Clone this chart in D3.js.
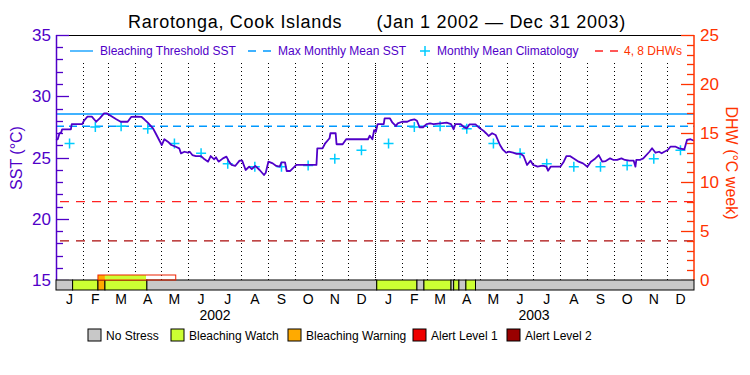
<!DOCTYPE html>
<html>
<head>
<meta charset="utf-8">
<script src="https://cdn.jsdelivr.net/npm/d3@7"></script>
<style>
  body { margin: 0; background: #fff; }
  svg { display: block; font-family: "Liberation Sans", Arial, sans-serif; }
</style>
</head>
<body>
<svg id="chart" width="750" height="375"></svg>
<script>
// month letters + years on the time axis
var monthLetters = ["J","F","M","A","M","J","J","A","S","O","N","D"];
var years = [2002, 2003];

// monthly mean climatology (deg C), Jan..Dec
var climValues = [26.15, 27.5, 27.55, 27.35, 26.15, 25.35, 24.5, 24.25, 24.25, 24.35, 24.9, 25.6];
var bleachingThreshold = 28.55;
var maxMonthlyMean = 27.55;
var dhwLevels = [4, 8];

// SST, days since Jan 1 2002
var sstDays = [0,2,4,6,7,17,18,30,32,36,41,46,50,55,58,63,69,74,82,86,92,98,101,105,111,114,118,121,124,128,
  132,137,141,143,147,151,153,156,160,166,170,174,177,181,183,186,191,195,198,201,205,210,213,217,221,224,228,
  233,238,240,243,248,252,256,258,262,264,268,273,275,298,299,305,308,313,314,320,321,328,332,357,359,362,364,
  366,368,375,376,382,385,389,391,396,402,406,410,413,416,420,424,428,432,440,447,452,455,457,463,467,470,473,
  480,485,489,492,495,499,503,508,511,515,518,523,527,532,535,539,543,546,549,551,555,558,561,563,566,577,581,
  584,588,592,598,603,608,612,616,621,625,629,634,638,642,647,651,656,661,663,664,668,672,679,682,686,690,693,
  696,700,703,709,713,719,722,726,730];
var sstValues = [26.43,26.49,26.98,27.06,27.3,27.3,27.73,27.73,28.0,28.33,28.33,27.92,28.2,28.6,28.6,28.39,28.12,
  27.92,27.92,28.31,28.33,28.31,28.12,27.84,27.38,26.98,26.43,26.02,26.49,26.29,26.02,25.88,25.75,25.34,25.47,
  25.39,25.47,25.2,25.12,25.12,24.85,24.66,25.12,24.85,25.02,24.66,24.93,25.07,24.66,24.39,24.31,24.74,24.74,
  23.98,24.25,24.06,24.31,23.98,23.57,23.76,24.66,24.52,24.31,24.25,24.61,24.61,23.9,23.9,24.25,24.39,24.39,
  25.75,25.75,26.16,26.57,26.98,26.98,26.08,26.08,26.49,26.49,26.78,26.49,27.24,27.1,27.73,27.73,28.2,28.2,
  27.84,27.57,27.79,27.92,27.92,28.06,28.12,28.0,27.47,27.47,27.73,27.79,27.73,27.79,27.84,27.73,27.3,27.73,
  27.73,27.47,27.38,27.7,27.7,27.38,27.19,26.98,26.76,26.98,26.84,26.02,25.67,25.39,25.47,25.39,25.29,25.29,
  25.12,24.39,24.74,24.39,24.31,24.25,24.31,24.31,24.25,23.92,24.25,24.25,24.66,25.12,25.12,24.93,24.66,24.52,
  24.25,24.66,24.85,25.2,24.66,24.71,24.93,24.8,24.8,24.93,24.8,24.74,24.74,24.25,24.8,24.8,24.93,25.47,25.75,
  25.39,25.47,25.34,25.47,25.61,25.88,25.88,25.75,25.67,26.43,26.49,26.37];

// bleaching stress level bar (0 no stress, 1 watch, 2 warning, 3 alert 1, 4 alert 2)
var stressStart = ["2002-01-01","2002-01-20","2002-02-18","2002-02-26","2002-04-15","2003-01-03","2003-02-18",
  "2003-02-26","2003-03-29","2003-04-01","2003-04-07","2003-04-15","2003-04-26"];
var stressLevel = [0,1,2,1,0,1,0,1,0,1,0,1,0];
var outlookStart = ["2002-02-18","2002-02-26","2002-04-14"];
var outlookEnd = ["2002-02-26","2002-04-14","2002-05-18"];
var outlookLevel = [2,1,-1];

var stressNames = ["No Stress","Bleaching Watch","Bleaching Warning","Alert Level 1","Alert Level 2"];
var stressColors = ["#c8c8c8","#ccff33","#ffaa00","#ee0000","#990000"];

var purple = "#5000c8", dhwRed = "#ff3300";
var parseDate = d3.timeParse("%Y-%m-%d");
var t0 = parseDate("2002-01-01"), t1 = parseDate("2004-01-01");

var svg = d3.select("#chart");
var pLeft = 56, pRight = 694, pTop = 35, pBottom = 280;

var x = d3.scaleTime().domain([t0, t1]).range([pLeft, pRight]);
var y = d3.scaleLinear().domain([15, 35]).range([pBottom, pTop]);
var y2 = d3.scaleLinear().domain([0, 25]).range([pBottom, pTop]);

// title
svg.append("text")
  .attr("x", 377).attr("y", 28)
  .attr("text-anchor", "middle")
  .style("font-size", "18px")
  .style("letter-spacing", "0.7px")
  .style("white-space", "pre")
  .text("Rarotonga, Cook Islands      (Jan 1 2002 \u2014 Dec 31 2003)");

// month dotted lines
var monthStarts = d3.timeMonth.range(d3.timeMonth.offset(t0, 1), t1);
svg.append("g").selectAll("line")
  .data(monthStarts)
  .join("line")
    .attr("x1", d => Math.round(x(d)) + 0.5)
    .attr("x2", d => Math.round(x(d)) + 0.5)
    .attr("y1", 63).attr("y2", pBottom)
    .attr("stroke", "#000")
    .attr("stroke-dasharray", d => d.getMonth() === 0 ? "1,1" : "1,3");

// reference lines
svg.append("line")
  .attr("x1", pLeft).attr("x2", pRight)
  .attr("y1", y(bleachingThreshold)).attr("y2", y(bleachingThreshold))
  .attr("stroke", "#0099ff").attr("stroke-width", 1.5);
svg.append("line")
  .attr("x1", pLeft).attr("x2", pRight)
  .attr("y1", y(maxMonthlyMean)).attr("y2", y(maxMonthlyMean))
  .attr("stroke", "#0099ff").attr("stroke-width", 1.5)
  .attr("stroke-dasharray", "8,5");
svg.append("g").selectAll("line")
  .data(dhwLevels)
  .join("line")
    .attr("x1", pLeft + 4).attr("x2", pRight)
    .attr("y1", d => y2(d)).attr("y2", d => y2(d))
    .attr("stroke", (d, i) => i === 0 ? "#aa0a0a" : "#ff2222")
    .attr("stroke-width", 1.2)
    .attr("stroke-dasharray", "9,7");

// climatology crosses, same for both years
var climPoints = [];
years.forEach(function(yr) {
  climValues.forEach(function(v, m) {
    var a = new Date(yr, m, 1), b = new Date(yr, m + 1, 1);
    climPoints.push({ date: new Date((a.getTime() + b.getTime()) / 2), value: v });
  });
});
svg.append("g").selectAll("path")
  .data(climPoints)
  .join("path")
    .attr("d", d => {
      var cx = x(d.date), cy = y(d.value);
      return "M" + (cx - 5) + "," + cy + "H" + (cx + 5) + "M" + cx + "," + (cy - 5) + "V" + (cy + 5);
    })
    .attr("stroke", "#00ccff")
    .attr("stroke-width", 1.5);

// SST line
var sstData = sstDays.map((d, i) => ({ date: d3.timeDay.offset(t0, d), value: sstValues[i] }));
var line = d3.line()
  .x(d => x(d.date))
  .y(d => y(d.value));
svg.append("path")
  .attr("fill", "none")
  .attr("stroke", purple)
  .attr("stroke-width", 1.8)
  .attr("stroke-linejoin", "round")
  .attr("d", line(sstData));

// top border
svg.append("line")
  .attr("x1", pLeft).attr("x2", pRight)
  .attr("y1", pTop + 0.5).attr("y2", pTop + 0.5)
  .attr("stroke", "#000");

// left axis
var leftAxis = svg.append("g");
leftAxis.append("line")
  .attr("x1", pLeft + 0.5).attr("x2", pLeft + 0.5)
  .attr("y1", pTop).attr("y2", pBottom)
  .attr("stroke", purple).attr("stroke-width", 1.5);
leftAxis.selectAll(".tick")
  .data(d3.range(15, 36))
  .join("line")
    .attr("x1", pLeft).attr("x2", d => pLeft + (d % 5 === 0 ? 13 : 7))
    .attr("y1", d => Math.round(y(d)) + 0.5).attr("y2", d => Math.round(y(d)) + 0.5)
    .attr("stroke", purple).attr("stroke-width", 1.3);
leftAxis.selectAll("text")
  .data(d3.range(15, 36, 5))
  .join("text")
    .attr("x", pLeft - 5).attr("y", d => y(d) + 6)
    .attr("text-anchor", "end")
    .attr("fill", purple)
    .style("font-size", "17px")
    .text(d => d);
svg.append("text")
  .attr("transform", "translate(22,158) rotate(-90)")
  .attr("text-anchor", "middle")
  .attr("fill", purple)
  .style("font-size", "16px")
  .text("SST (\u00B0C)");

// right axis
var rightAxis = svg.append("g");
rightAxis.append("line")
  .attr("x1", pRight).attr("x2", pRight)
  .attr("y1", pTop).attr("y2", pBottom)
  .attr("stroke", dhwRed).attr("stroke-width", 1.5);
rightAxis.selectAll(".tick")
  .data(d3.range(0, 26))
  .join("line")
    .attr("x1", pRight).attr("x2", d => pRight - (d % 5 === 0 ? 13 : 7))
    .attr("y1", d => Math.round(y2(d)) + 0.5).attr("y2", d => Math.round(y2(d)) + 0.5)
    .attr("stroke", dhwRed).attr("stroke-width", 1.3);
rightAxis.selectAll("text")
  .data(d3.range(0, 26, 5))
  .join("text")
    .attr("x", pRight + 6).attr("y", d => y2(d) + 6)
    .attr("fill", dhwRed)
    .style("font-size", "17px")
    .text(d => d);
svg.append("text")
  .attr("transform", "translate(726,163) rotate(90)")
  .attr("text-anchor", "middle")
  .attr("fill", dhwRed)
  .style("font-size", "16px")
  .text("DHW (\u00B0C week)");

// stress bar
var stressSegs = stressStart.map((s, i) => ({
  start: parseDate(s),
  end: i + 1 < stressStart.length ? parseDate(stressStart[i + 1]) : t1,
  level: stressLevel[i]
}));
svg.append("g").selectAll("rect")
  .data(stressSegs)
  .join("rect")
    .attr("x", d => x(d.start))
    .attr("width", d => x(d.end) - x(d.start))
    .attr("y", pBottom).attr("height", 10)
    .attr("fill", d => stressColors[d.level])
    .attr("stroke", "#000");

var outlookSegs = outlookStart.map((s, i) => ({ start: parseDate(s), end: parseDate(outlookEnd[i]), level: outlookLevel[i] }));
svg.append("g").selectAll("rect")
  .data(outlookSegs.filter(d => d.level >= 0))
  .join("rect")
    .attr("x", d => x(d.start))
    .attr("width", d => x(d.end) - x(d.start))
    .attr("y", pBottom - 5).attr("height", 5)
    .attr("fill", d => stressColors[d.level]);
svg.append("rect")
  .attr("x", x(outlookSegs[0].start))
  .attr("width", x(outlookSegs[outlookSegs.length - 1].end) - x(outlookSegs[0].start))
  .attr("y", pBottom - 5).attr("height", 5)
  .attr("fill", "none")
  .attr("stroke", "#ee2200");

// month + year labels
var monthMids = d3.timeMonth.range(t0, t1).map(d => new Date((d.getTime() + d3.timeMonth.offset(d, 1).getTime()) / 2));
svg.append("g").selectAll("text")
  .data(monthMids)
  .join("text")
    .attr("x", d => x(d)).attr("y", 304)
    .attr("text-anchor", "middle")
    .style("font-size", "14px")
    .text(d => monthLetters[d.getMonth()]);
svg.append("g").selectAll("text")
  .data(years)
  .join("text")
    .attr("x", d => x(new Date(d, 6, 2))).attr("y", 320)
    .attr("text-anchor", "middle")
    .style("font-size", "14px")
    .text(d => d);

// top legend
var lg = svg.append("g").style("font-size", "12px");
lg.append("line").attr("x1", 70).attr("x2", 93).attr("y1", 51).attr("y2", 51)
  .attr("stroke", "#0099ff").attr("stroke-width", 1.3);
lg.append("text").attr("x", 100).attr("y", 55).attr("fill", purple).text("Bleaching Threshold SST");
lg.append("line").attr("x1", 248).attr("x2", 271).attr("y1", 51).attr("y2", 51)
  .attr("stroke", "#0099ff").attr("stroke-width", 1.3).attr("stroke-dasharray", "8,7");
lg.append("text").attr("x", 278).attr("y", 55).attr("fill", purple).text("Max Monthly Mean SST");
lg.append("path").attr("d", "M420,51H430M425,46V56").attr("stroke", "#00ccff").attr("stroke-width", 1.5);
lg.append("text").attr("x", 437).attr("y", 55).attr("fill", purple).text("Monthly Mean Climatology");
lg.append("line").attr("x1", 595).attr("x2", 618).attr("y1", 51).attr("y2", 51)
  .attr("stroke", "#ff2222").attr("stroke-width", 1.3).attr("stroke-dasharray", "8,7");
lg.append("text").attr("x", 624).attr("y", 55).attr("fill", dhwRed).text("4, 8 DHWs");

// bottom legend
var legendX = [88, 171, 288, 413, 507];
var bl = svg.append("g").selectAll("g")
  .data(stressNames)
  .join("g")
    .attr("transform", (d, i) => "translate(" + legendX[i] + ",329)");
bl.append("rect")
  .attr("width", 13).attr("height", 12)
  .attr("fill", (d, i) => stressColors[i])
  .attr("stroke", "#000");
bl.append("text")
  .attr("x", 18).attr("y", 11)
  .style("font-size", "12px")
  .text(d => d);
</script>
</body>
</html>
